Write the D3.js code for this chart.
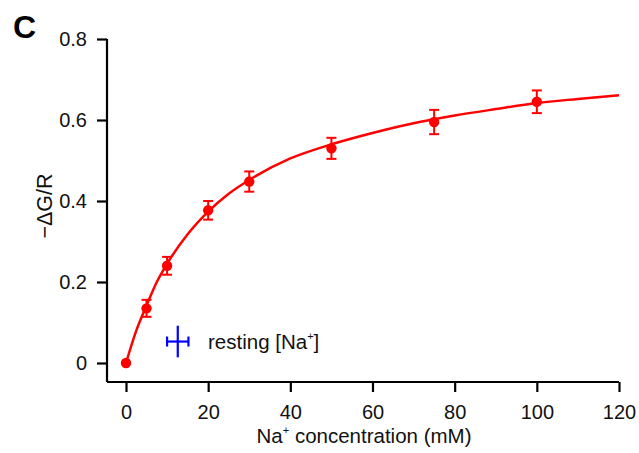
<!DOCTYPE html>
<html><head><meta charset="utf-8">
<script src="https://cdn.jsdelivr.net/npm/d3@7"></script>
<style>body{margin:0;background:#fff}svg{display:block}text{font-family:"Liberation Sans",Arial,sans-serif}</style>
</head><body><svg id="c" width="639" height="453"></svg>
<script>
const concentrations = [0, 5, 10, 20, 30, 50, 75, 100];
const dGR = [0.0, 0.135, 0.24, 0.377, 0.448, 0.53, 0.595, 0.645];
const dGRerr = [0, 0.021, 0.022, 0.023, 0.025, 0.026, 0.03, 0.028];
const fitX = [0, 2.5, 5, 7.5, 10, 15, 20, 25, 30, 40, 50, 60, 70, 80, 90, 100, 110, 120];
const fitY = [0, 0.08, 0.142, 0.2, 0.245, 0.318, 0.374, 0.418, 0.452, 0.505, 0.54, 0.568, 0.592, 0.611, 0.627, 0.642, 0.652, 0.661];
const resting = {x: 12.6, y: 0.053, xerr: 2.6, yerr: 0.039};
const xTicks = [0, 20, 40, 60, 80, 100, 120];
const yTicks = [0, 0.2, 0.4, 0.6, 0.8];

const svg = d3.select("#c");
const x = d3.scaleLinear().domain([0, 120]).range([126, 619]);
const y = d3.scaleLinear().domain([0, 0.8]).range([363, 39]);
const xAxisY = 382, yAxisX = 107;
const FONT = '"Liberation Sans",Arial,sans-serif';

// axes
const xa = svg.append("g").attr("transform", `translate(0,${xAxisY})`)
  .call(d3.axisBottom(x).tickValues(xTicks).tickSize(10).tickPadding(13).tickFormat(d3.format("d")));
xa.select(".domain").attr("d", `M${yAxisX},0H${x(120)}`);
const ya = svg.append("g").attr("transform", `translate(${yAxisX},0)`)
  .call(d3.axisLeft(y).tickValues(yTicks).tickSize(10).tickPadding(10).tickFormat(d => d === 0 ? "0" : d3.format(".1f")(d)));
ya.select(".domain").attr("d", `M0,${y(0.8)}V${xAxisY}`);
svg.selectAll(".domain, .tick line").attr("stroke", "#000").attr("stroke-width", 2.2);
svg.selectAll(".tick text").attr("font-size", 20).attr("fill", "#111").attr("font-family", FONT);

// fit curve
svg.append("path")
  .attr("d", d3.line().x((d, i) => x(fitX[i])).y(d => y(d)).curve(d3.curveMonotoneX)(fitY))
  .attr("fill", "none").attr("stroke", "#ff0000").attr("stroke-width", 2.5);

// error bars
const eb = svg.append("g").attr("stroke", "#ff0000").attr("stroke-width", 2);
concentrations.forEach((c, i) => {
  if (dGRerr[i] <= 0) return;
  const cx = x(c), y1 = y(dGR[i] + dGRerr[i]), y2 = y(dGR[i] - dGRerr[i]);
  eb.append("line").attr("x1", cx).attr("x2", cx).attr("y1", y1).attr("y2", y2);
  eb.append("line").attr("x1", cx - 5).attr("x2", cx + 5).attr("y1", y1).attr("y2", y1);
  eb.append("line").attr("x1", cx - 5).attr("x2", cx + 5).attr("y1", y2).attr("y2", y2);
});
svg.append("g").selectAll("circle").data(concentrations).join("circle")
  .attr("cx", d => x(d)).attr("cy", (d, i) => y(dGR[i])).attr("r", 5.2).attr("fill", "#ff0000");

// resting Na cross
const rb = svg.append("g").attr("stroke", "#0000ff").attr("stroke-width", 2.2);
rb.append("line").attr("x1", x(resting.x)).attr("x2", x(resting.x))
  .attr("y1", y(resting.y + resting.yerr)).attr("y2", y(resting.y - resting.yerr));
rb.append("line").attr("x1", x(resting.x - resting.xerr)).attr("x2", x(resting.x + resting.xerr))
  .attr("y1", y(resting.y)).attr("y2", y(resting.y));
[resting.x - resting.xerr, resting.x + resting.xerr].forEach(v =>
  rb.append("line").attr("x1", x(v)).attr("x2", x(v)).attr("y1", y(resting.y) - 5).attr("y2", y(resting.y) + 5));

const t = svg.append("text").attr("x", 208).attr("y", 349).attr("font-size", 20.5).attr("fill", "#111");
t.append("tspan").text("resting [Na");
t.append("tspan").text("+").attr("font-size", 11).attr("dy", -9);
t.append("tspan").text("]").attr("dy", 9);

// axis titles
const xl = svg.append("text").attr("x", 364).attr("y", 443).attr("text-anchor", "middle").attr("font-size", 20.5).attr("fill", "#111");
xl.append("tspan").text("Na");
xl.append("tspan").text("+").attr("font-size", 11).attr("dy", -9);
xl.append("tspan").text(" concentration (mM)").attr("dy", 9);

svg.append("text").attr("transform", "translate(52,206) rotate(-90)").attr("text-anchor", "middle")
  .attr("font-size", 21.5).attr("fill", "#111").text("\u2212\u0394G/R");

svg.append("text").attr("x", 13).attr("y", 38).attr("font-size", 32).attr("font-weight", "bold").attr("fill", "#000").text("C");
</script></body></html>
